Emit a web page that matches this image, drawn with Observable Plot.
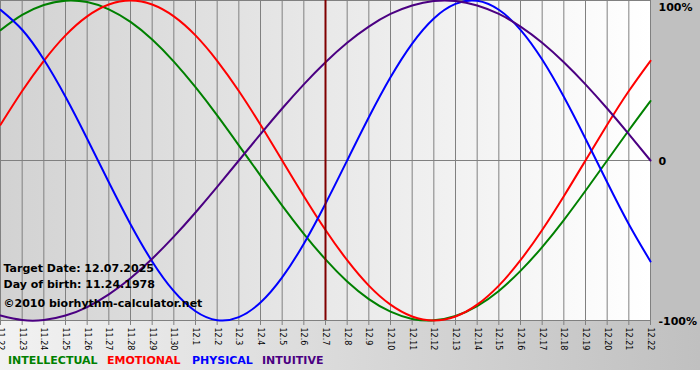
<!DOCTYPE html>
<html><head><meta charset="utf-8">
<script src="https://cdn.jsdelivr.net/npm/d3@7"></script>
<script src="https://cdn.jsdelivr.net/npm/@observablehq/plot@0.6"></script>
<style>
html,body{margin:0;padding:0;background:#fff;}
#wrap{position:relative;width:700px;height:370px;overflow:hidden;
background: linear-gradient(to right,#d2d2d2,#ffffff) 0 0/650px 320px no-repeat,
            linear-gradient(to right,#f2f2f2,#c0c0c0) 0 320px/700px 50px no-repeat,
            #c0c0c0;
font-family:"DejaVu Sans",Verdana,sans-serif;}
#chart svg{display:block;}
#legend{position:relative;height:20px;font-size:11px;font-weight:bold;}
#legend span{position:absolute;top:1px;line-height:20px;white-space:nowrap;}
</style></head>
<body>
<div id="wrap"><div id="chart"></div><div id="legend"></div></div>
<script>
const labels = ["11.22","11.23","11.24","11.25","11.26","11.27","11.28","11.29","11.30",
  "12.1","12.2","12.3","12.4","12.5","12.6","12.7","12.8","12.9","12.10","12.11","12.12",
  "12.13","12.14","12.15","12.16","12.17","12.18","12.19","12.20","12.21","12.22"];
const intellectual = [0.815,0.910,0.972,0.999,0.990,0.945,0.866,0.756,0.618,0.458,0.282,0.095,-0.095,-0.282,-0.458,-0.618,-0.756,-0.866,-0.945,-0.990,-0.999,-0.972,-0.910,-0.815,-0.690,-0.541,-0.372,-0.189,0.000,0.189,0.372];
const emotional = [0.223,0.434,0.623,0.782,0.901,0.975,1.000,0.975,0.901,0.782,0.623,0.434,0.223,0.000,-0.223,-0.434,-0.623,-0.782,-0.901,-0.975,-1.000,-0.975,-0.901,-0.782,-0.623,-0.434,-0.223,0.000,0.223,0.434,0.623];
const physical = [0.942,0.817,0.631,0.398,0.136,-0.136,-0.398,-0.631,-0.817,-0.942,-0.998,-0.979,-0.888,-0.731,-0.520,-0.270,0.000,0.270,0.520,0.731,0.888,0.979,0.998,0.942,0.817,0.631,0.398,0.136,-0.136,-0.398,-0.631];
const intuitive = [-0.969,-0.997,-0.997,-0.969,-0.916,-0.837,-0.736,-0.614,-0.476,-0.325,-0.165,0.000,0.165,0.325,0.476,0.614,0.736,0.837,0.916,0.969,0.997,0.997,0.969,0.916,0.837,0.736,0.614,0.476,0.325,0.165,0.000];
const seriesNames = ["INTELLECTUAL","EMOTIONAL","PHYSICAL","INTUITIVE"];
const seriesColors = ["#008000","#ff0000","#0000ff","#4b0082"];
const yTicks = [1, 0, -1];
const yLabels = ["100%", "0", "-100%"];
const targetLabel = "12.7";
const infoLines = ["Target Date: 12.07.2025", "Day of birth: 11.24.1978", "\u00a92010 biorhythm-calculator.net"];

const days = d3.range(labels.length);
const allSeries = [intellectual, emotional, physical, intuitive];
const rows = vals => days.map(i => ({i, v: vals[i]}));
const yLab = v => yLabels[yTicks.indexOf(v)];
const targetIdx = labels.indexOf(targetLabel);

const infoDy = [-48.3, -33, -13.3];

const chart = Plot.plot({
  width: 700, height: 350,
  marginLeft: 0, marginRight: 50, marginTop: 0, marginBottom: 30,
  style: {background: "transparent", fontFamily: "DejaVu Sans, Verdana, sans-serif", overflow: "visible"},
  x: {domain: [0, labels.length - 1]},
  y: {domain: [-1, 1]},
  marks: [
    Plot.ruleX(days, {x: d => d, stroke: "#808080", strokeWidth: 1}),
    Plot.ruleY(yTicks, {y: d => d, stroke: "#808080", strokeWidth: 1}),
    Plot.axisX(days, {tickFormat: i => labels[i], tickRotate: 90, tickSize: 5, tickPadding: 2,
      fontSize: 8, stroke: "#808080", fill: "#000", label: null}),
    Plot.axisY([0, -1], {anchor: "right", tickSize: 0, tickPadding: 8, tickFormat: yLab,
      textAnchor: "start", fontSize: 11, fontWeight: "bold", fill: "#000", label: null, dy: 1}),
    Plot.axisY([1], {anchor: "right", tickSize: 0, tickPadding: 8, tickFormat: yLab,
      textAnchor: "start", fontSize: 11, fontWeight: "bold", fill: "#000", label: null, dy: 7}),
    ...allSeries.map((vals, k) => Plot.line(rows(vals), {x: "i", y: "v", stroke: seriesColors[k],
      strokeWidth: 2, curve: "natural"})),
    Plot.ruleX([targetIdx], {x: d => d, stroke: "#800000", strokeWidth: 2}),
    ...infoLines.map((s, k) => Plot.text([s], {text: d => d, frameAnchor: "bottom-left", dx: 3, dy: infoDy[k],
      textAnchor: "start", fontSize: 11, fontWeight: "bold", fill: "#000"}))
  ]
});
document.getElementById("chart").appendChild(chart);

const legendX = [8, 107, 192, 262];
const legend = document.getElementById("legend");
seriesNames.forEach((n, k) => {
  const s = document.createElement("span");
  s.textContent = n;
  s.style.color = seriesColors[k];
  s.style.left = legendX[k] + "px";
  legend.appendChild(s);
});
</script>
</body></html>
